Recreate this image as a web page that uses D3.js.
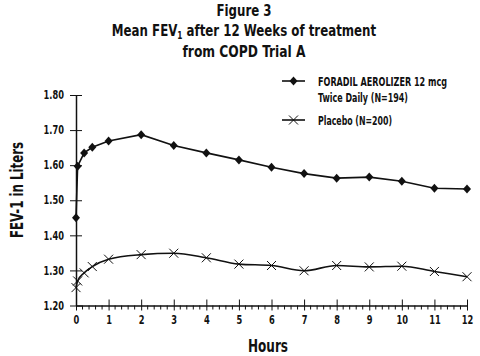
<!DOCTYPE html>
<html><head><meta charset="utf-8">
<script src="https://cdn.jsdelivr.net/npm/d3@7"></script>
<style>
html,body{margin:0;padding:0;background:#fff;}
svg text{font-family:'Liberation Sans Narrow','DejaVu Sans Condensed',sans-serif;font-weight:bold;fill:#111;}
</style></head>
<body>
<svg id="c" width="480" height="356"></svg>
<script>
const hours = [0, 0.05, 0.25, 0.5, 1, 2, 3, 4, 5, 6, 7, 8, 9, 10, 11, 12];
const foradil = [1.45, 1.597, 1.635, 1.651, 1.669, 1.687, 1.656, 1.635, 1.615, 1.594, 1.576, 1.563, 1.566, 1.554, 1.534, 1.532];
const placebo = [1.251, 1.27, 1.293, 1.311, 1.332, 1.345, 1.349, 1.336, 1.318, 1.314, 1.299, 1.314, 1.310, 1.312, 1.297, 1.282];
const yTicks = [1.20, 1.30, 1.40, 1.50, 1.60, 1.70, 1.80];
const xTicks = [0,1,2,3,4,5,6,7,8,9,10,11,12];
const titleLines = ["Figure 3", "Mean FEV|1| after 12 Weeks of treatment", "from COPD Trial A"];
const legendItems = [
  {lines:["FORADIL AEROLIZER 12 mcg","Twice Daily (N=194)"], sym:"diamond"},
  {lines:["Placebo (N=200)"], sym:"x"}
];

const svg = d3.select("#c");
const x = d3.scaleLinear().domain([0,12]).range([76,467]);
const y = d3.scaleLinear().domain([1.2,1.8]).range([305.5,95]);

function condense(sel, k){
  sel.each(function(){
    const w = this.getComputedTextLength();
    d3.select(this).attr("textLength", w*k).attr("lengthAdjust","spacingAndGlyphs");
  });
}

// Title
const tg = svg.append("g");
const titleW = [55, 266, 123];
titleLines.forEach((t,i)=>{
  const txt = tg.append("text").attr("x",244).attr("y",16+i*20.3).attr("text-anchor","middle").attr("font-size",16);
  const parts = t.split("|");
  parts.forEach((p,j)=>{
    const ts = txt.append("tspan").text(p);
    if (j===1){ ts.attr("font-size",10).attr("dy",3); }
    if (j===2){ ts.attr("dy",-3); }
  });
  if (parts.length===1) txt.attr("textLength",titleW[i]).attr("lengthAdjust","spacingAndGlyphs");
  else txt.selectAll("tspan").each(function(){
    const w=this.getComputedTextLength();
    d3.select(this).attr("textLength",w*0.82).attr("lengthAdjust","spacingAndGlyphs");
  });
});

// Y axis
const ya = svg.append("g").attr("transform",`translate(${x(0)},0)`)
  .call(d3.axisLeft(y).tickValues(yTicks).tickFormat(d3.format(".2f")).tickSize(6).tickSizeOuter(0));
ya.select(".domain").attr("stroke","#111").attr("stroke-width",1.5);
ya.selectAll(".tick line").attr("stroke","#111").attr("x1",6).attr("x2",-6);
ya.selectAll(".tick text").attr("font-size",11.5).attr("x",-12);
condense(ya.selectAll(".tick text"),0.8);

// X axis
const xa = svg.append("g").attr("transform",`translate(0,${y(1.2)})`)
  .call(d3.axisBottom(x).tickValues(xTicks).tickFormat(d3.format("d")).tickSize(5).tickSizeOuter(0));
xa.select(".domain").attr("stroke","#111").attr("stroke-width",1.5);
xa.selectAll(".tick line").attr("stroke","#111").attr("y1",-6).attr("y2",5);
xa.selectAll(".tick text").attr("font-size",11.5).attr("y",10);
condense(xa.selectAll(".tick text"),0.8);
const minor = d3.range(0,12.001,0.2).filter(v=>Math.abs(v-Math.round(v))>0.01);
svg.append("g").selectAll("line").data(minor).join("line")
  .attr("x1",d=>x(d)).attr("x2",d=>x(d)).attr("y1",y(1.2)).attr("y2",y(1.2)+4)
  .attr("stroke","#111").attr("stroke-width",1);

// Axis labels
svg.append("text").attr("x",268).attr("y",352).attr("text-anchor","middle").attr("font-size",18)
  .attr("textLength",40).attr("lengthAdjust","spacingAndGlyphs").text("Hours");
svg.append("text").attr("transform","translate(23,190) rotate(-90)").attr("text-anchor","middle").attr("font-size",17)
  .attr("textLength",96).attr("lengthAdjust","spacingAndGlyphs").text("FEV-1 in Liters");

// Lines
const line = d3.line().x(d=>x(d[0])).y(d=>y(d[1]));
const fd = hours.map((h,i)=>[h,foradil[i]]);
const pd = hours.map((h,i)=>[h,placebo[i]]);
svg.append("path").datum(fd).attr("d",line).attr("fill","none").attr("stroke","#111").attr("stroke-width",1.6);
svg.append("path").datum(pd).attr("d",line.curve(d3.curveMonotoneX)).attr("fill","none").attr("stroke","#111").attr("stroke-width",1.6);

function diamond(g,cx,cy){
  g.append("path").attr("d",`M${cx},${cy-4.5}L${cx+4},${cy}L${cx},${cy+4.5}L${cx-4},${cy}Z`).attr("fill","#111");
}
function xmark(g,cx,cy){
  const s=4.5;
  g.append("path").attr("d",`M${cx-s},${cy-s}L${cx+s},${cy+s}M${cx-s},${cy+s}L${cx+s},${cy-s}`).attr("stroke","#111").attr("stroke-width",1).attr("fill","none");
}
const mg = svg.append("g");
fd.forEach(d=>diamond(mg,x(d[0]),y(d[1])));
pd.forEach(d=>xmark(mg,x(d[0]),y(d[1])));

// Legend
const lg = svg.append("g");
const ly = [81, 120];
const legW = [[129, 90], [74]];
legendItems.forEach((it,i)=>{
  lg.append("line").attr("x1",282).attr("x2",305).attr("y1",ly[i]).attr("y2",ly[i]).attr("stroke","#111").attr("stroke-width",1.6);
  if (it.sym==="diamond") diamond(lg,293.5,ly[i]); else xmark(lg,293.5,ly[i]);
  it.lines.forEach((t,j)=>{
    lg.append("text").attr("x",318).attr("y",ly[i]+4.5+j*16).attr("font-size",12)
      .attr("textLength",legW[i][j]).attr("lengthAdjust","spacingAndGlyphs").text(t);
  });
});
</script>
</body></html>
